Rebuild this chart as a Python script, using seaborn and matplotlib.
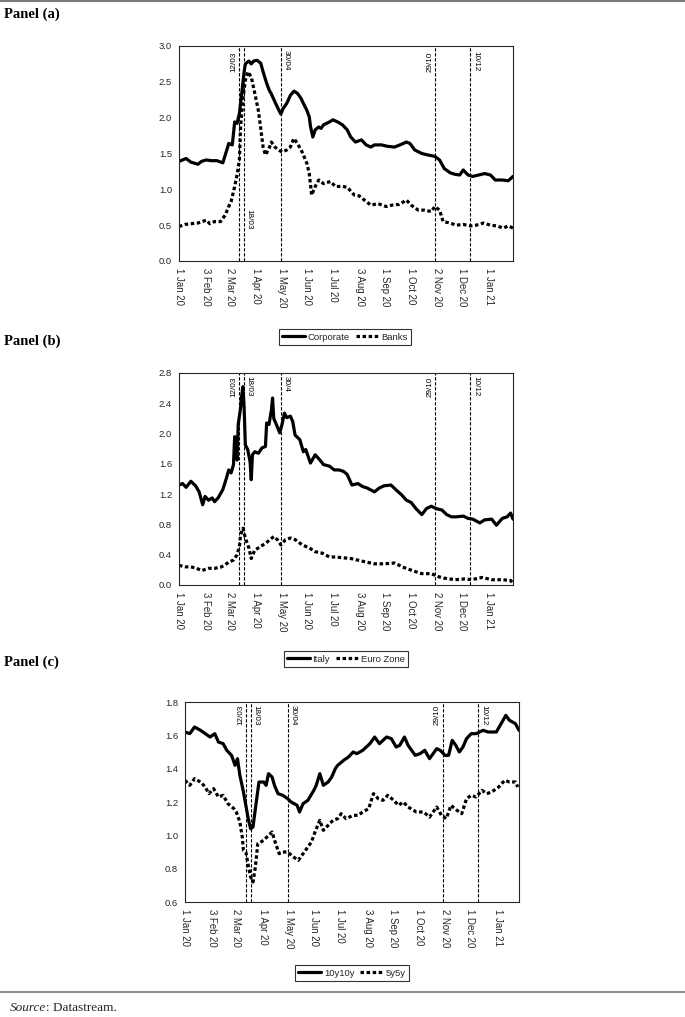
import numpy as np
import pandas as pd
import matplotlib
matplotlib.use("Agg")
import matplotlib.pyplot as plt
from matplotlib.lines import Line2D
import seaborn as sns

# ---------------- data (x = trading-day number since 1 Jan 2020) ----------------
trading_days = pd.bdate_range("2020-01-01", "2021-01-29")
tick_labels = ["1 Jan 20", "3 Feb 20", "2 Mar 20", "1 Apr 20", "1 May 20", "1 Jun 20",
               "1 Jul 20", "3 Aug 20", "1 Sep 20", "1 Oct 20", "2 Nov 20", "1 Dec 20", "1 Jan 21"]
event_dates = ["2020-03-12", "2020-03-18", "2020-04-30", "2020-10-29", "2020-12-10"]

# Panel (a)
a_names = ["Corporate", "Banks"]
corp_day = [0, 6, 10, 16, 19, 23, 27, 32, 37, 40, 42, 45, 47, 49, 51, 53, 55, 56, 59, 61,
            63, 66, 69, 71, 74, 76, 78, 81, 83, 86, 88, 91, 94, 97, 100, 103, 105, 108, 110, 111,
            113, 115, 118, 120, 122, 127, 130, 134, 138, 142, 145, 149, 154, 158, 162, 165, 171, 176, 182, 188,
            192, 195, 199, 205, 210, 216, 220, 224, 229, 233, 237, 240, 244, 248, 253, 258, 263, 267, 273, 278,
            282]
corp_val = [1.39, 1.43, 1.38, 1.35, 1.39, 1.41, 1.40, 1.40, 1.37, 1.53,
            1.64, 1.62, 1.94, 1.92, 2.06, 2.34, 2.64, 2.75, 2.79, 2.75,
            2.79, 2.80, 2.76, 2.64, 2.48, 2.39, 2.33, 2.22, 2.15, 2.05,
            2.13, 2.20, 2.31, 2.37, 2.34, 2.27, 2.20, 2.10, 2.01, 1.88,
            1.73, 1.83, 1.87, 1.85, 1.90, 1.94, 1.97, 1.94, 1.90, 1.83,
            1.73, 1.66, 1.69, 1.62, 1.59, 1.62, 1.62, 1.60, 1.59, 1.63,
            1.66, 1.64, 1.55, 1.50, 1.48, 1.46, 1.41, 1.29, 1.23, 1.21,
            1.20, 1.27, 1.20, 1.18, 1.20, 1.22, 1.20, 1.13, 1.13, 1.12,
            1.18]
banks_day = [0, 5, 10, 16, 23, 26, 30, 35, 39, 42, 44, 47, 49, 51, 52, 54, 56, 58, 61, 64,
             67, 69, 71, 73, 76, 78, 81, 84, 87, 91, 94, 97, 100, 104, 108, 110, 112, 115, 118, 122,
             128, 132, 138, 142, 148, 152, 158, 162, 168, 175, 180, 186, 192, 196, 202, 207, 213, 216, 220, 223,
             229, 234, 240, 246, 251, 257, 263, 268, 274, 278, 282]
banks_val = [0.48, 0.51, 0.52, 0.53, 0.57, 0.52, 0.55, 0.55, 0.64, 0.76,
             0.83, 1.04, 1.20, 1.41, 1.87, 2.27, 2.52, 2.64, 2.57, 2.34,
             2.10, 1.85, 1.59, 1.48, 1.57, 1.66, 1.59, 1.55, 1.52, 1.55,
             1.59, 1.71, 1.64, 1.52, 1.36, 1.22, 0.92, 1.04, 1.13, 1.08,
             1.11, 1.04, 1.04, 1.03, 0.92, 0.91, 0.83, 0.78, 0.80, 0.76,
             0.78, 0.79, 0.85, 0.78, 0.71, 0.71, 0.69, 0.76, 0.71, 0.55,
             0.53, 0.50, 0.51, 0.49, 0.50, 0.53, 0.50, 0.49, 0.46, 0.49,
             0.46]

# Panel (b)
b_names = ["Italy", "Euro Zone"]
italy_day = [0, 3, 6, 10, 14, 17, 20, 22, 25, 28, 30, 33, 37, 40, 42, 44, 46, 47, 49, 50,
             52, 53, 54, 55, 56, 58, 60, 61, 62, 64, 67, 70, 73, 74, 76, 78, 79, 80, 83, 85,
             87, 89, 91, 94, 96, 98, 102, 105, 107, 111, 115, 119, 122, 127, 131, 135, 139, 142, 146, 151,
             155, 159, 165, 169, 173, 179, 183, 188, 192, 196, 200, 205, 209, 213, 217, 222, 226, 230, 234, 240,
             244, 248, 254, 258, 264, 268, 273, 277, 280, 282]
italy_val = [1.32, 1.34, 1.29, 1.37, 1.31, 1.23, 1.06, 1.17, 1.12, 1.15,
             1.10, 1.15, 1.26, 1.41, 1.52, 1.48, 1.59, 1.96, 1.65, 2.12,
             2.34, 2.51, 2.62, 2.34, 1.85, 1.79, 1.63, 1.39, 1.72, 1.76,
             1.74, 1.81, 1.83, 2.14, 2.12, 2.31, 2.47, 2.20, 2.09, 2.01,
             2.12, 2.27, 2.21, 2.23, 2.16, 1.98, 1.92, 1.76, 1.79, 1.61,
             1.72, 1.65, 1.59, 1.57, 1.52, 1.52, 1.50, 1.46, 1.32, 1.34,
             1.30, 1.28, 1.23, 1.28, 1.31, 1.32, 1.26, 1.19, 1.12, 1.09,
             1.01, 0.93, 1.01, 1.04, 1.01, 0.99, 0.93, 0.90, 0.90, 0.91,
             0.88, 0.87, 0.82, 0.86, 0.87, 0.79, 0.88, 0.90, 0.95, 0.87]
ez_day = [0, 5, 10, 15, 19, 25, 30, 36, 42, 46, 49, 51, 52, 54, 56, 59, 61, 64, 69, 73,
          77, 80, 83, 86, 90, 94, 98, 104, 110, 115, 121, 127, 132, 138, 145, 156, 165, 173, 182, 190,
          199, 205, 213, 219, 224, 233, 241, 247, 256, 264, 273, 280, 282]
ez_val = [0.26, 0.24, 0.24, 0.22, 0.19, 0.22, 0.22, 0.24, 0.30, 0.33,
          0.40, 0.51, 0.66, 0.75, 0.62, 0.49, 0.35, 0.46, 0.51, 0.55,
          0.60, 0.64, 0.60, 0.53, 0.60, 0.62, 0.60, 0.53, 0.49, 0.44,
          0.42, 0.37, 0.37, 0.36, 0.35, 0.31, 0.28, 0.28, 0.29, 0.23,
          0.18, 0.15, 0.15, 0.11, 0.09, 0.07, 0.08, 0.07, 0.10, 0.07,
          0.07, 0.06, 0.02]

# Panel (c)
c_names = ["10y10y", "5y5y"]
y10_day = [0, 4, 8, 13, 17, 21, 25, 28, 32, 35, 39, 42, 44, 46, 49, 51, 53, 55, 57, 59,
           62, 66, 68, 70, 73, 75, 78, 82, 86, 89, 94, 96, 99, 103, 108, 110, 113, 116, 120, 123,
           126, 128, 133, 137, 141, 144, 149, 155, 159, 163, 169, 173, 177, 180, 184, 187, 193, 197, 201, 205,
           211, 214, 218, 221, 224, 227, 230, 233, 236, 240, 244, 250, 254, 261, 265, 269, 272, 277, 280]
y10_val = [1.62, 1.61, 1.65, 1.63, 1.61, 1.59, 1.61, 1.56, 1.55, 1.51,
           1.48, 1.42, 1.46, 1.36, 1.26, 1.18, 1.10, 1.04, 1.05, 1.16,
           1.32, 1.32, 1.30, 1.37, 1.35, 1.30, 1.25, 1.24, 1.22, 1.20,
           1.18, 1.14, 1.19, 1.21, 1.27, 1.30, 1.37, 1.30, 1.32, 1.35,
           1.40, 1.42, 1.45, 1.47, 1.50, 1.49, 1.51, 1.55, 1.59, 1.55,
           1.59, 1.58, 1.53, 1.54, 1.59, 1.54, 1.48, 1.49, 1.51, 1.46,
           1.52, 1.51, 1.48, 1.48, 1.57, 1.54, 1.50, 1.53, 1.58, 1.61,
           1.61, 1.63, 1.62, 1.62, 1.67, 1.72, 1.69, 1.67, 1.63]
y5_day = [0, 4, 8, 13, 17, 20, 24, 28, 32, 36, 41, 43, 46, 48, 49, 51, 53, 55, 57, 59,
          61, 66, 70, 73, 76, 79, 82, 86, 91, 95, 98, 102, 106, 109, 113, 116, 120, 124, 128, 131,
          135, 141, 145, 149, 154, 158, 162, 166, 170, 175, 179, 183, 187, 194, 200, 205, 211, 215, 219, 223,
          228, 232, 236, 240, 244, 249, 253, 257, 263, 268, 272, 277, 279]
y5_val = [1.33, 1.30, 1.34, 1.32, 1.29, 1.25, 1.28, 1.23, 1.24, 1.19,
          1.16, 1.14, 1.08, 0.99, 0.91, 0.90, 0.82, 0.75, 0.72, 0.81,
          0.95, 0.97, 1.00, 1.02, 0.95, 0.89, 0.90, 0.90, 0.87, 0.85,
          0.88, 0.92, 0.96, 1.02, 1.09, 1.03, 1.06, 1.09, 1.10, 1.13,
          1.10, 1.12, 1.12, 1.14, 1.16, 1.25, 1.22, 1.21, 1.24, 1.21,
          1.18, 1.20, 1.17, 1.14, 1.14, 1.11, 1.17, 1.12, 1.10, 1.18,
          1.15, 1.13, 1.22, 1.24, 1.23, 1.27, 1.25, 1.26, 1.29, 1.33,
          1.32, 1.32, 1.29]

# ---------------- styling ----------------
sns.set_style("white")
plt.rcParams["font.family"] = ["Liberation Sans", "DejaVu Sans"]
INK = "#262626"

W, H = 685, 1017
fig = plt.figure(figsize=(W / 100, H / 100), dpi=100)


def fx(px):
    return px / W


def fy(py):
    return 1 - py / H


tick_pos = [trading_days.get_loc(pd.to_datetime(t, format="%d %b %y")) for t in tick_labels]
event_pos = [trading_days.get_loc(pd.Timestamp(d)) for d in event_dates]


def panel(box, names, days, vals, ylim, yticks, ylabfmt, ev_labels, ev_y, leg_center, xmax):
    l, t, r, b = box
    ax = fig.add_axes([fx(l), fy(b), fx(r - l), (b - t) / H])
    df = pd.concat([pd.DataFrame({"day": d, "value": v, "series": n})
                    for n, d, v in zip(names, days, vals)], ignore_index=True)
    sns.lineplot(data=df, x="day", y="value", hue="series", style="series",
                 hue_order=names, style_order=names, palette=["black", "black"],
                 dashes=["", (1.1, 0.8)], linewidth=2.3, estimator=None, ax=ax)
    for pos, lab, yy in zip(event_pos, ev_labels, ev_y):
        ax.axvline(pos, color="black", lw=0.8, ls=(0, (3, 1.5)), zorder=1)
        left = lab in ("12/03", "29/10")
        ax.annotate(lab, xy=(pos, yy), xycoords=("data", "axes fraction"),
                    xytext=(-1.2 if left else 1.2, 0), textcoords="offset points",
                    rotation=90 if left else 270, ha="right" if left else "left",
                    va="top", fontsize=5.9, color="black")
    ax.set_xlim(0, xmax)
    ax.set_ylim(*ylim)
    ax.set_yticks(yticks)
    ax.set_yticklabels([ylabfmt.format(v) for v in yticks])
    ax.set_xticks(tick_pos)
    ax.set_xticklabels(tick_labels, rotation=270, va="top", ha="center")
    ax.set_xlabel("")
    ax.set_ylabel("")
    ax.tick_params(axis="both", direction="out", length=3, width=0.6, color=INK,
                   labelcolor=INK, pad=2)
    ax.tick_params(axis="x", labelsize=6.9)
    ax.tick_params(axis="y", labelsize=6.8)
    for s in ax.spines.values():
        s.set_visible(True)
        s.set_color(INK)
        s.set_linewidth(0.8)
    sns.move_legend(ax, "center", bbox_to_anchor=(fx(leg_center[0]), fy(leg_center[1])),
                    bbox_transform=fig.transFigure, ncol=2, frameon=True, title=None,
                    fontsize=6.8, handlelength=2.4, handletextpad=0.3, columnspacing=0.6,
                    borderpad=0.35, fancybox=False, edgecolor="black")
    leg = ax.get_legend()
    leg.get_frame().set_linewidth(0.8)
    for txt in leg.get_texts():
        txt.set_color(INK)
    return ax


panel((179, 46, 513, 261), a_names, [corp_day, banks_day], [corp_val, banks_val],
      (0, 3.0), [0, 0.5, 1.0, 1.5, 2.0, 2.5, 3.0], "{:.1f}",
      ["12/03", "18/03", "30/04", "29/10", "10/12"], [0.975, 0.24, 0.98, 0.975, 0.975],
      (345, 337), 282)

panel((179, 373, 513, 585), b_names, [italy_day, ez_day], [italy_val, ez_val],
      (0, 2.8), [0, 0.4, 0.8, 1.2, 1.6, 2.0, 2.4, 2.8], "{:.1f}",
      ["12/03", "18/03", "30/4", "29/10", "10/12"], [0.985, 0.985, 0.985, 0.985, 0.985],
      (346, 659), 282)

panel((185, 702, 519, 902), c_names, [y10_day, y5_day], [y10_val, y5_val],
      (0.6, 1.8), [0.6, 0.8, 1.0, 1.2, 1.4, 1.6, 1.8], "{:.1f}",
      ["12/03", "18/03", "30/04", "29/10", "10/12"], [0.985, 0.985, 0.985, 0.985, 0.985],
      (352, 973), 280)

# panel titles
for lab, py in [("Panel (a)", 14), ("Panel (b)", 341), ("Panel (c)", 662)]:
    fig.text(fx(4), fy(py), lab, family=["Liberation Serif", "DejaVu Serif"], weight="bold",
             fontsize=10.5, va="center", ha="left", color="black")

# rules
fig.add_artist(Line2D([0, 1], [fy(1), fy(1)], transform=fig.transFigure, color="#7a7a7a", lw=1.5))
fig.add_artist(Line2D([0, 1], [fy(992), fy(992)], transform=fig.transFigure, color="#7a7a7a", lw=1.2))

# source note
t1 = fig.text(fx(10), fy(1008), "Source", family=["Liberation Serif", "DejaVu Serif"],
              style="italic", fontsize=9.5, va="center", ha="left")
fig.canvas.draw()
ext = t1.get_window_extent()
fig.text(ext.x1 / W, fy(1008), ": Datastream.", family=["Liberation Serif", "DejaVu Serif"],
         fontsize=9.5, va="center", ha="left")

fig.savefig("out.png", dpi=100)
